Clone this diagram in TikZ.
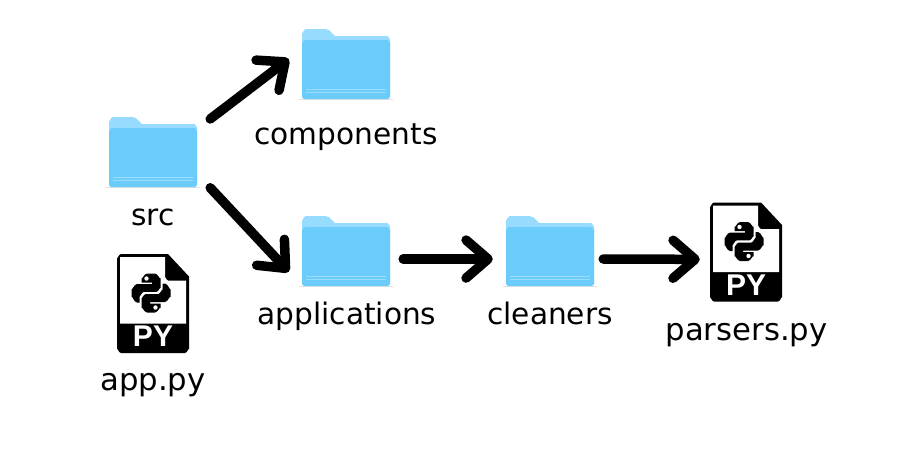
\documentclass[tikz,border=0pt]{standalone}
\usepackage{fontspec}
\setmainfont{DejaVu Sans}
\newfontfamily\badgefont{Liberation Sans}
\usetikzlibrary{arrows.meta}
\definecolor{folderfront}{HTML}{6BCBFB}
\definecolor{folderback}{HTML}{97DBFF}
\definecolor{folderline}{HTML}{9ADDFD}
\tikzset{
  iconbox/.style = {minimum width=114pt, minimum height=78pt, inner sep=0pt},
  itemname/.style = {font=\fontsize{29.6pt}{32pt}\selectfont, text=black, inner sep=0pt, anchor=base},
  filename/.style = {itemname, font=\fontsize{30.7pt}{32pt}\selectfont},
  link/.style = {line width=9.5pt, line cap=round, line join=round, -{Straight Barb[round, length=22pt, width=38pt]}},
  folder/.pic = {
    \fill[folderback] (-44,30) -- (-44,-31) to[out=-90,in=180] (-40,-35) -- (-20,-35)
      to[out=0,in=-135] (-17,-34) -- (-11,-28) -- (41,-28) to[out=0,in=-90] (44,-25) -- (44,30) -- cycle;
    \fill[black!12] (-47,34.5) rectangle (47,35.5);
    \fill[folderfront] (-44,33) -- (-44,-21) to[out=-90,in=180] (-41,-24) -- (41,-24)
      to[out=0,in=-90] (44,-21) -- (44,33) to[out=90,in=0] (42,35) -- (-42,35) to[out=180,in=90] cycle;
    \draw[folderline, line width=.8pt] (-40,25) -- (40,25) (-40,28) -- (40,28);
  },
  pyfile/.pic = {
    \fill[black] (-36,-45.5) to[out=-90,in=180] (-32,-49.5) -- (15,-49.5) -- (36,-27) -- (36,45.5)
      to[out=90,in=0] (32,49.5) -- (-32,49.5) to[out=180,in=90] (-36,45.5) -- cycle;
    \fill[white] (-33,-46.5) -- (12,-46.5) -- (12,-26) to[out=90,in=180] (15,-23) -- (33,-23) -- (33,20) -- (-33,20) -- cycle;
    \begin{scope}[shift={(-2,-10.5)}]
    \foreach \turn in {0,180} {
      \fill[black, rotate=\turn] (-9.5,-15) to[out=-90,in=180] (-4,-19.5) -- (4,-19.5) to[out=0,in=-90] (9.5,-15)
        -- (9.5,-5) to[out=90,in=0] (5.5,-1.2) -- (-7,-1.2) to[out=180,in=-90] (-11.5,3) -- (-11.5,9.5) -- (-14,9.5)
        to[out=180,in=90] (-19.5,4) -- (-19.5,-4) to[out=-90,in=180] (-14,-9) -- (1,-9) -- (1,-10.5) -- (-9.5,-10.5) -- cycle;
      \fill[white, rotate=\turn] (-4.5,-14.5) circle (2.2pt);
    }
    \end{scope}
    \node[font=\fontsize{30pt}{32pt}\badgefont\bfseries, text=white, inner sep=0pt] at (0,33) {PY};
  }
}
\begin{document}
\begin{tikzpicture}[x=1pt, y=-1pt]
\useasboundingbox (0,0) rectangle (920,451);
\pic at (153,152) {folder};
\pic at (346,64) {folder};
\pic at (346,251) {folder};
\pic at (550,251) {folder};
\pic at (153,303.5) {pyfile};
\pic at (746,252) {pyfile};
\node[iconbox] (src) at (153,152) {};
\node[iconbox] (components) at (346,64) {};
\node[iconbox] (applications) at (346,251) {};
\node[iconbox] (cleaners) at (550,251) {};
\node[iconbox, minimum width=92pt] (parsers) at (746,252) {};
\node[itemname] (srcname) at (153,225) {src};
\node[itemname] (componentsname) at (346,144) {components};
\node[itemname] (applicationsname) at (347,324) {applications};
\node[itemname] (cleanersname) at (550,324) {cleaners};
\node[filename] (parsersname) at (746.5,340) {parsers.py};
\node[filename] (appname) at (153,390) {app.py};
\draw[link] (src.30) -- (components.175);
\draw[link] (src.-32) -- (applications.200);
\draw[link] (applications.-8) -- (cleaners.188);
\draw[link, shorten <=-4pt] (cleaners.-8) -- (parsers.189);
\end{tikzpicture}
\end{document}
